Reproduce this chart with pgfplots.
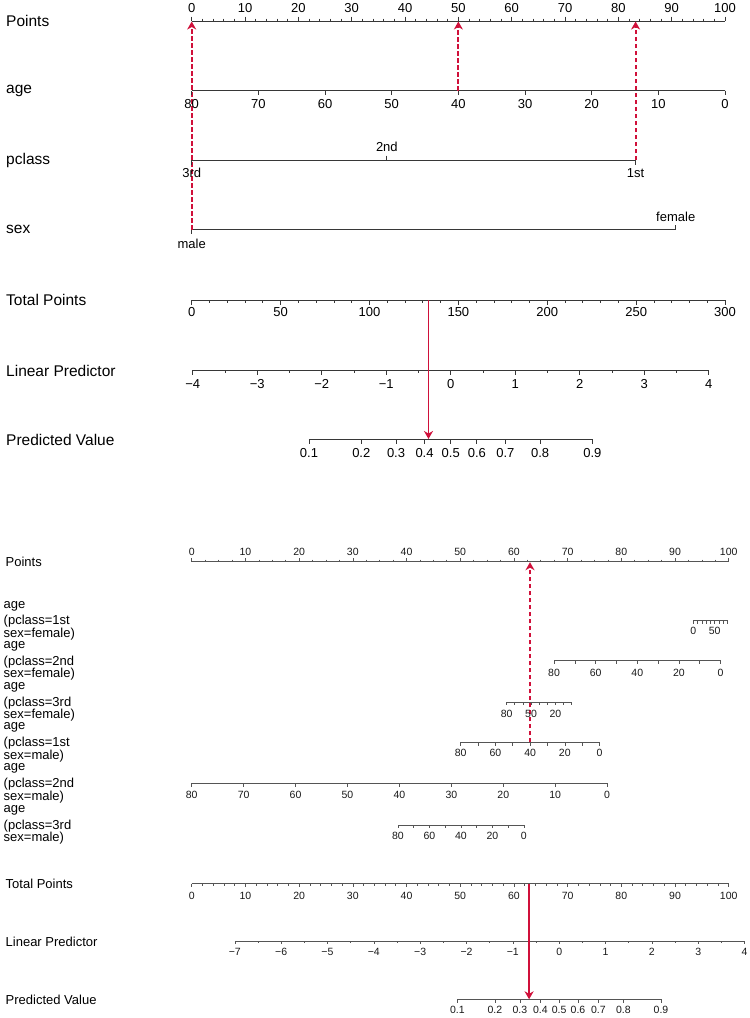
\documentclass[border=0pt]{standalone}
\usepackage{fontspec}
\setmainfont{Liberation Sans}
\usepackage{pgfplots}
\pgfplotsset{compat=1.18}
\usetikzlibrary{arrows.meta}
\definecolor{crim}{RGB}{208,16,58}
\definecolor{axg}{RGB}{55,55,55}
\definecolor{axb}{RGB}{85,85,85}
\newcommand{\topfont}{\fontsize{15.5}{16}\selectfont}
\newcommand{\toptick}{\fontsize{13}{13}\selectfont}
\newcommand{\botfont}{\fontsize{13}{13}\selectfont}
\newcommand{\bottick}{\fontsize{10.5}{10.5}\selectfont}
\pgfplotsset{
 sline/.style={color=axg, line width=0.75pt, mark=none, forget plot},
 bline/.style={color=axb, line width=0.6pt, mark=none, forget plot},
 stick/.style={color=axg, only marks, mark=|, mark size=#1, mark options={draw=axg, line width=0.75pt}, forget plot},
 btick/.style={color=axb, only marks, mark=|, mark size=#1, mark options={draw=axb, line width=0.6pt}, forget plot},
 slab/.style={draw=none, mark=none, forget plot, nodes near coords, point meta=explicit symbolic,
   every node near coord/.append style={anchor=center, inner sep=0pt, font=\toptick, text=black}},
 blab/.style={draw=none, mark=none, forget plot, nodes near coords, point meta=explicit symbolic,
   every node near coord/.append style={anchor=center, inner sep=0pt, font=\bottick, text=black!90}},
 redd/.style={color=crim, draw=crim, line width=1.9pt, dash pattern=on 4.5pt off 2.5pt, mark=none, forget plot, -{Stealth[length=8pt,width=9pt,inset=2.5pt]}},
 reds/.style={color=crim, draw=crim, line width=1.8pt, mark=none, forget plot, -{Stealth[length=8pt,width=9pt,inset=2.5pt]}},
 TP/.style={x filter/.expression={191.7+5.3333*x}},
 BP/.style={x filter/.expression={191.7+5.37*x}},
}
\begin{document}
\begin{tikzpicture}
\begin{axis}[scale only axis, width=750pt, height=1018pt, xmin=0, xmax=750, ymin=0, ymax=1018,
  y dir=reverse, hide axis, clip=false]
\addplot[fill=white, draw=none, forget plot] coordinates {(0,0) (750,0) (750,1018) (0,1018)} \closedcycle;

% ================= TOP NOMOGRAM =================
% Points
\addplot[sline, TP] coordinates {(0,21) (100,21)};
\addplot[stick=2.25, TP] coordinates {(0,18.75) (10,18.75) (20,18.75) (30,18.75) (40,18.75) (50,18.75) (60,18.75) (70,18.75) (80,18.75) (90,18.75) (100,18.75)};
\addplot[stick=1.25, TP] coordinates {(2,19.75) (4,19.75) (6,19.75) (8,19.75) (12,19.75) (14,19.75) (16,19.75) (18,19.75) (22,19.75) (24,19.75) (26,19.75) (28,19.75) (32,19.75) (34,19.75) (36,19.75) (38,19.75) (42,19.75) (44,19.75) (46,19.75) (48,19.75) (52,19.75) (54,19.75) (56,19.75) (58,19.75) (62,19.75) (64,19.75) (66,19.75) (68,19.75) (72,19.75) (74,19.75) (76,19.75) (78,19.75) (82,19.75) (84,19.75) (86,19.75) (88,19.75) (92,19.75) (94,19.75) (96,19.75) (98,19.75)};
\addplot[slab, TP] coordinates {(0,8)[0] (10,8)[10] (20,8)[20] (30,8)[30] (40,8)[40] (50,8)[50] (60,8)[60] (70,8)[70] (80,8)[80] (90,8)[90] (100,8)[100]};
% age
\addplot[sline, x filter/.expression={725-6.66667*x}] coordinates {(0,90.5) (80,90.5)};
\addplot[stick=2.25, x filter/.expression={725-6.66667*x}] coordinates {(0,92.75) (10,92.75) (20,92.75) (30,92.75) (40,92.75) (50,92.75) (60,92.75) (70,92.75) (80,92.75)};
\addplot[slab, x filter/.expression={725-6.66667*x}] coordinates {(80,104.3)[80] (70,104.3)[70] (60,104.3)[60] (50,104.3)[50] (40,104.3)[40] (30,104.3)[30] (20,104.3)[20] (10,104.3)[10] (0,104.3)[0]};
% pclass (points of each level)
\addplot[sline, TP] coordinates {(0,160) (83.23,160)};
\addplot[stick=2.25, TP] coordinates {(0,162.25) (83.23,162.25)};
\addplot[stick=2.25, TP] coordinates {(36.59,157.75)};
\addplot[slab, TP] coordinates {(36.59,147)[2nd]};
\addplot[slab, TP] coordinates {(0,173.3)[3rd] (83.23,173.3)[1st]};
% sex
\addplot[sline, TP] coordinates {(0,229.5) (90.76,229.5)};
\addplot[stick=2.25, TP] coordinates {(0,231.75)};
\addplot[stick=2.25, TP] coordinates {(90.76,227.25)};
\addplot[slab, TP] coordinates {(90.76,217.3)[female]};
\addplot[slab, TP] coordinates {(0,243.7)[male]};
% Total Points
\addplot[sline, x filter/.expression={191.7+1.77778*x}] coordinates {(0,300) (300,300)};
\addplot[stick=2.25, x filter/.expression={191.7+1.77778*x}] coordinates {(0,302.25) (50,302.25) (100,302.25) (150,302.25) (200,302.25) (250,302.25) (300,302.25)};
\addplot[stick=1.25, x filter/.expression={191.7+1.77778*x}] coordinates {(10,301.25) (20,301.25) (30,301.25) (40,301.25) (60,301.25) (70,301.25) (80,301.25) (90,301.25) (110,301.25) (120,301.25) (130,301.25) (140,301.25) (160,301.25) (170,301.25) (180,301.25) (190,301.25) (210,301.25) (220,301.25) (230,301.25) (240,301.25) (260,301.25) (270,301.25) (280,301.25) (290,301.25)};
\addplot[slab, x filter/.expression={191.7+1.77778*x}] coordinates {(0,312.5)[0] (50,312.5)[50] (100,312.5)[100] (150,312.5)[150] (200,312.5)[200] (250,312.5)[250] (300,312.5)[300]};
% Linear Predictor
\addplot[sline, x filter/.expression={450.7+64.5*x}] coordinates {(-4,370.3) (4,370.3)};
\addplot[stick=2.25, x filter/.expression={450.7+64.5*x}] coordinates {(-4,372.55) (-3,372.55) (-2,372.55) (-1,372.55) (0,372.55) (1,372.55) (2,372.55) (3,372.55) (4,372.55)};
\addplot[stick=1.25, x filter/.expression={450.7+64.5*x}] coordinates {(-3.5,371.55) (-2.5,371.55) (-1.5,371.55) (-0.5,371.55) (0.5,371.55) (1.5,371.55) (2.5,371.55) (3.5,371.55)};
\addplot[slab, x filter/.expression={450.7+64.5*x}] coordinates {(-4,383.7)[−4] (-3,383.7)[−3] (-2,383.7)[−2] (-1,383.7)[−1] (0,383.7)[0] (1,383.7)[1] (2,383.7)[2] (3,383.7)[3] (4,383.7)[4]};
% Predicted Value
\addplot[sline, x filter/.expression={450.7+64.5*ln(x/(1-x))}] coordinates {(0.1,439) (0.9,439)};
\addplot[stick=2.25, x filter/.expression={450.7+64.5*ln(x/(1-x))}] coordinates {(0.1,441.25) (0.2,441.25) (0.3,441.25) (0.4,441.25) (0.5,441.25) (0.6,441.25) (0.7,441.25) (0.8,441.25) (0.9,441.25)};
\addplot[slab, x filter/.expression={450.7+64.5*ln(x/(1-x))}] coordinates {(0.1,453.3)[0.1] (0.2,453.3)[0.2] (0.3,453.3)[0.3] (0.4,453.3)[0.4] (0.5,453.3)[0.5] (0.6,453.3)[0.6] (0.7,453.3)[0.7] (0.8,453.3)[0.8] (0.9,453.3)[0.9]};
% red guides (top)
\addplot[redd, TP] coordinates {(0,229.5) (0,21.5)};
\addplot[redd, TP] coordinates {(50,90.5) (50,21.5)};
\addplot[redd, TP] coordinates {(83.23,160) (83.23,21.5)};
\addplot[reds, x filter/.expression={191.7+1.77778*x}] coordinates {(133.2,300) (133.2,439)};
% left labels (top)
\node[anchor=base west, inner sep=0pt, font=\topfont] at (axis cs:6,26.7) {Points};
\node[anchor=base west, inner sep=0pt, font=\topfont] at (axis cs:6,93.5) {age};
\node[anchor=base west, inner sep=0pt, font=\topfont] at (axis cs:6,164) {pclass};
\node[anchor=base west, inner sep=0pt, font=\topfont] at (axis cs:6,233.5) {sex};
\node[anchor=base west, inner sep=0pt, font=\topfont] at (axis cs:6,305.7) {Total Points};
\node[anchor=base west, inner sep=0pt, font=\topfont] at (axis cs:6,376) {Linear Predictor};
\node[anchor=base west, inner sep=0pt, font=\topfont] at (axis cs:6,445) {Predicted Value};

% ================= BOTTOM NOMOGRAM =================
% Points
\addplot[bline, BP] coordinates {(0,561.7) (100,561.7)};
\addplot[btick=1.75, BP] coordinates {(0,559.95) (10,559.95) (20,559.95) (30,559.95) (40,559.95) (50,559.95) (60,559.95) (70,559.95) (80,559.95) (90,559.95) (100,559.95)};
\addplot[btick=1, BP] coordinates {(2.5,560.7) (5,560.7) (7.5,560.7) (12.5,560.7) (15,560.7) (17.5,560.7) (22.5,560.7) (25,560.7) (27.5,560.7) (32.5,560.7) (35,560.7) (37.5,560.7) (42.5,560.7) (45,560.7) (47.5,560.7) (52.5,560.7) (55,560.7) (57.5,560.7) (62.5,560.7) (65,560.7) (67.5,560.7) (72.5,560.7) (75,560.7) (77.5,560.7) (82.5,560.7) (85,560.7) (87.5,560.7) (92.5,560.7) (95,560.7) (97.5,560.7)};
\addplot[blab, BP] coordinates {(0,551.7)[0] (10,551.7)[10] (20,551.7)[20] (30,551.7)[30] (40,551.7)[40] (50,551.7)[50] (60,551.7)[60] (70,551.7)[70] (80,551.7)[80] (90,551.7)[90] (100,551.7)[100]};
% age (pclass=1st, sex=female)
\addplot[bline, x filter/.expression={191.7+5.37*(93.4+0.08*x)}] coordinates {(0,620.5) (80,620.5)};
\addplot[btick=1.6, x filter/.expression={191.7+5.37*(93.4+0.08*x)}] coordinates {(0,622.1) (10,622.1) (20,622.1) (30,622.1) (40,622.1) (50,622.1) (60,622.1) (70,622.1) (80,622.1)};
\addplot[blab, x filter/.expression={191.7+5.37*(93.4+0.08*x)}] coordinates {(0,630.5)[0] (50,630.5)[50]};
% age (pclass=2nd, sex=female)
\addplot[bline, x filter/.expression={191.7+5.37*(98.48-0.3876*x)}] coordinates {(0,660.7) (80,660.7)};
\addplot[btick=1.6, x filter/.expression={191.7+5.37*(98.48-0.3876*x)}] coordinates {(0,662.3) (10,662.3) (20,662.3) (30,662.3) (40,662.3) (50,662.3) (60,662.3) (70,662.3) (80,662.3)};
\addplot[blab, x filter/.expression={191.7+5.37*(98.48-0.3876*x)}] coordinates {(80,672.7)[80] (60,672.7)[60] (40,672.7)[40] (20,672.7)[20] (0,672.7)[0]};
% age (pclass=3rd, sex=female)
\addplot[bline, x filter/.expression={191.7+5.37*(70.77-0.1515*x)}] coordinates {(0,702) (80,702)};
\addplot[btick=1.6, x filter/.expression={191.7+5.37*(70.77-0.1515*x)}] coordinates {(0,703.6) (10,703.6) (20,703.6) (30,703.6) (40,703.6) (50,703.6) (60,703.6) (70,703.6) (80,703.6)};
\addplot[blab, x filter/.expression={191.7+5.37*(70.77-0.1515*x)}] coordinates {(80,714)[80] (50,714)[50] (20,714)[20]};
% age (pclass=1st, sex=male)
\addplot[bline, x filter/.expression={191.7+5.37*(75.94-0.3231*x)}] coordinates {(0,742.3) (80,742.3)};
\addplot[btick=1.6, x filter/.expression={191.7+5.37*(75.94-0.3231*x)}] coordinates {(0,743.9) (10,743.9) (20,743.9) (30,743.9) (40,743.9) (50,743.9) (60,743.9) (70,743.9) (80,743.9)};
\addplot[blab, x filter/.expression={191.7+5.37*(75.94-0.3231*x)}] coordinates {(80,753.3)[80] (60,753.3)[60] (40,753.3)[40] (20,753.3)[20] (0,753.3)[0]};
% age (pclass=2nd, sex=male)
\addplot[bline, x filter/.expression={191.7+5.37*(77.36-0.967*x)}] coordinates {(0,783.3) (80,783.3)};
\addplot[btick=1.6, x filter/.expression={191.7+5.37*(77.36-0.967*x)}] coordinates {(0,784.9) (10,784.9) (20,784.9) (30,784.9) (40,784.9) (50,784.9) (60,784.9) (70,784.9) (80,784.9)};
\addplot[blab, x filter/.expression={191.7+5.37*(77.36-0.967*x)}] coordinates {(80,795)[80] (70,795)[70] (60,795)[60] (50,795)[50] (40,795)[40] (30,795)[30] (20,795)[20] (10,795)[10] (0,795)[0]};
% age (pclass=3rd, sex=male)
\addplot[bline, x filter/.expression={191.7+5.37*(61.85-0.293*x)}] coordinates {(0,825) (80,825)};
\addplot[btick=1.6, x filter/.expression={191.7+5.37*(61.85-0.293*x)}] coordinates {(0,826.6) (10,826.6) (20,826.6) (30,826.6) (40,826.6) (50,826.6) (60,826.6) (70,826.6) (80,826.6)};
\addplot[blab, x filter/.expression={191.7+5.37*(61.85-0.293*x)}] coordinates {(80,836)[80] (60,836)[60] (40,836)[40] (20,836)[20] (0,836)[0]};
% Total Points
\addplot[bline, BP] coordinates {(0,883.7) (100,883.7)};
\addplot[btick=1.6, BP] coordinates {(0,885.3) (10,885.3) (20,885.3) (30,885.3) (40,885.3) (50,885.3) (60,885.3) (70,885.3) (80,885.3) (90,885.3) (100,885.3)};
\addplot[btick=1, BP] coordinates {(2,884.7) (4,884.7) (6,884.7) (8,884.7) (12,884.7) (14,884.7) (16,884.7) (18,884.7) (22,884.7) (24,884.7) (26,884.7) (28,884.7) (32,884.7) (34,884.7) (36,884.7) (38,884.7) (42,884.7) (44,884.7) (46,884.7) (48,884.7) (52,884.7) (54,884.7) (56,884.7) (58,884.7) (62,884.7) (64,884.7) (66,884.7) (68,884.7) (72,884.7) (74,884.7) (76,884.7) (78,884.7) (82,884.7) (84,884.7) (86,884.7) (88,884.7) (92,884.7) (94,884.7) (96,884.7) (98,884.7)};
\addplot[blab, BP] coordinates {(0,895.5)[0] (10,895.5)[10] (20,895.5)[20] (30,895.5)[30] (40,895.5)[40] (50,895.5)[50] (60,895.5)[60] (70,895.5)[70] (80,895.5)[80] (90,895.5)[90] (100,895.5)[100]};
% Linear Predictor
\addplot[bline, x filter/.expression={191.7+5.37*(68.43+8.629*x)}] coordinates {(-7,941) (4,941)};
\addplot[btick=1.6, x filter/.expression={191.7+5.37*(68.43+8.629*x)}] coordinates {(-7,942.6) (-6,942.6) (-5,942.6) (-4,942.6) (-3,942.6) (-2,942.6) (-1,942.6) (0,942.6) (1,942.6) (2,942.6) (3,942.6) (4,942.6)};
\addplot[btick=1, x filter/.expression={191.7+5.37*(68.43+8.629*x)}] coordinates {(-6.5,942) (-5.5,942) (-4.5,942) (-3.5,942) (-2.5,942) (-1.5,942) (-0.5,942) (0.5,942) (1.5,942) (2.5,942) (3.5,942)};
\addplot[blab, x filter/.expression={191.7+5.37*(68.43+8.629*x)}] coordinates {(-7,951.7)[−7] (-6,951.7)[−6] (-5,951.7)[−5] (-4,951.7)[−4] (-3,951.7)[−3] (-2,951.7)[−2] (-1,951.7)[−1] (0,951.7)[0] (1,951.7)[1] (2,951.7)[2] (3,951.7)[3] (4,951.7)[4]};
% Predicted Value
\addplot[bline, x filter/.expression={191.7+5.37*(68.43+8.629*ln(x/(1-x)))}] coordinates {(0.1,999.3) (0.9,999.3)};
\addplot[btick=1.6, x filter/.expression={191.7+5.37*(68.43+8.629*ln(x/(1-x)))}] coordinates {(0.1,1000.9) (0.2,1000.9) (0.3,1000.9) (0.4,1000.9) (0.5,1000.9) (0.6,1000.9) (0.7,1000.9) (0.8,1000.9) (0.9,1000.9)};
\addplot[blab, x filter/.expression={191.7+5.37*(68.43+8.629*ln(x/(1-x)))}] coordinates {(0.1,1010)[0.1] (0.2,1010)[0.2] (0.3,1010)[0.3] (0.4,1010)[0.4] (0.5,1010)[0.5] (0.6,1010)[0.6] (0.7,1010)[0.7] (0.8,1010)[0.8] (0.9,1010)[0.9]};
% red guides (bottom)
\addplot[redd, line width=1.6pt, BP] coordinates {(63.0,742.3) (63.0,562.2)};
\addplot[reds, line width=1.6pt, BP] coordinates {(62.83,883.7) (62.83,999.3)};
% left labels (bottom)
\node[anchor=base west, inner sep=0pt, font=\botfont] at (axis cs:5.5,566.7) {Points};
\node[anchor=base west, inner sep=0pt, font=\botfont] at (axis cs:3.5,608.1) {age};
\node[anchor=base west, inner sep=0pt, font=\botfont] at (axis cs:3.5,624.8) {(pclass=1st};
\node[anchor=base west, inner sep=0pt, font=\botfont] at (axis cs:3.5,637.4) {sex=female)};
\node[anchor=base west, inner sep=0pt, font=\botfont] at (axis cs:3.5,648.3) {age};
\node[anchor=base west, inner sep=0pt, font=\botfont] at (axis cs:3.5,665.0) {(pclass=2nd};
\node[anchor=base west, inner sep=0pt, font=\botfont] at (axis cs:3.5,677.6) {sex=female)};
\node[anchor=base west, inner sep=0pt, font=\botfont] at (axis cs:3.5,689.6) {age};
\node[anchor=base west, inner sep=0pt, font=\botfont] at (axis cs:3.5,706.3) {(pclass=3rd};
\node[anchor=base west, inner sep=0pt, font=\botfont] at (axis cs:3.5,718.9) {sex=female)};
\node[anchor=base west, inner sep=0pt, font=\botfont] at (axis cs:3.5,729.9) {age};
\node[anchor=base west, inner sep=0pt, font=\botfont] at (axis cs:3.5,746.6) {(pclass=1st};
\node[anchor=base west, inner sep=0pt, font=\botfont] at (axis cs:3.5,759.2) {sex=male)};
\node[anchor=base west, inner sep=0pt, font=\botfont] at (axis cs:3.5,770.9) {age};
\node[anchor=base west, inner sep=0pt, font=\botfont] at (axis cs:3.5,787.6) {(pclass=2nd};
\node[anchor=base west, inner sep=0pt, font=\botfont] at (axis cs:3.5,800.2) {sex=male)};
\node[anchor=base west, inner sep=0pt, font=\botfont] at (axis cs:3.5,812.6) {age};
\node[anchor=base west, inner sep=0pt, font=\botfont] at (axis cs:3.5,829.3) {(pclass=3rd};
\node[anchor=base west, inner sep=0pt, font=\botfont] at (axis cs:3.5,841.9) {sex=male)};
\node[anchor=base west, inner sep=0pt, font=\botfont] at (axis cs:5.5,888) {Total Points};
\node[anchor=base west, inner sep=0pt, font=\botfont] at (axis cs:5.5,946.5) {Linear Predictor};
\node[anchor=base west, inner sep=0pt, font=\botfont] at (axis cs:5.5,1004.8) {Predicted Value};
\end{axis}
\end{tikzpicture}
\end{document}
